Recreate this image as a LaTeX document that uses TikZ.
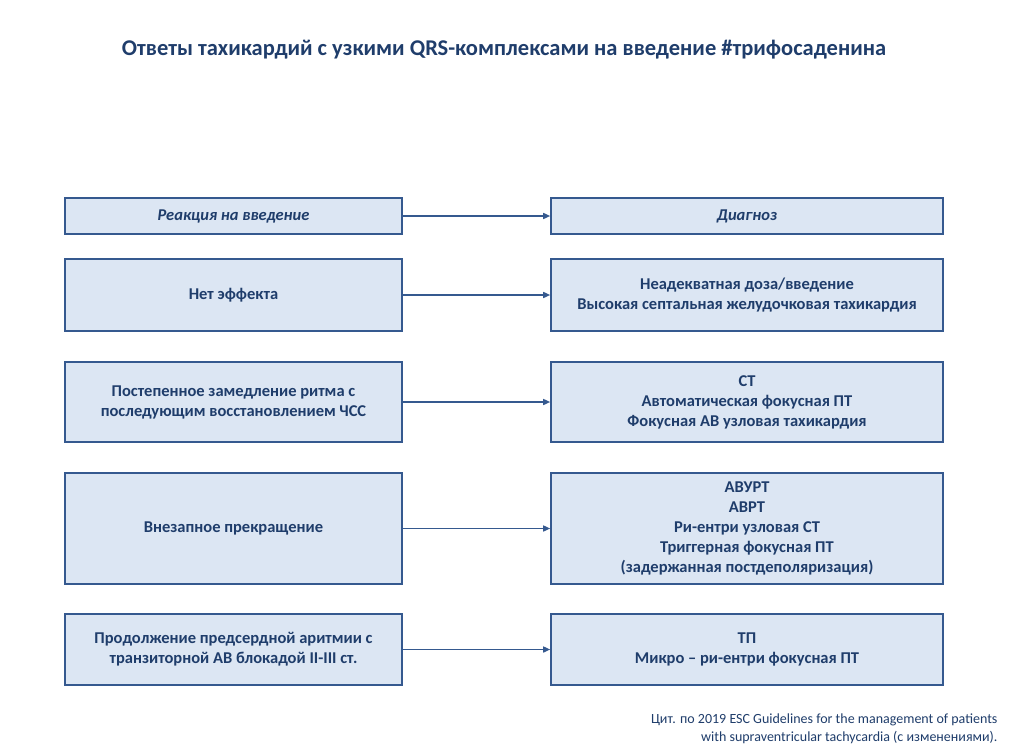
\documentclass[tikz,border=0pt]{standalone}
\usepackage{fontspec}
\setmainfont{Carlito}
\usetikzlibrary{arrows.meta}
\definecolor{boxfill}{HTML}{DCE6F3}
\definecolor{boxline}{HTML}{35598F}
\definecolor{txt}{HTML}{1F3D6B}
\tikzset{box/.style={draw=boxline, line width=1.6pt, fill=boxfill, text=txt,
  font=\fontsize{16.5}{20}\selectfont\bfseries, align=center, inner sep=2pt},
  lbox/.style={box, minimum width=337pt},
  rbox/.style={box, minimum width=392pt},
  link/.style={boxline, line width=1.5pt, -{Triangle[length=7pt,width=6pt]}}}
\begin{document}
\begin{tikzpicture}[x=1pt,y=-1pt]
\useasboundingbox[fill=white] (0,0) rectangle (1009,755);
\node[text=txt, font=\fontsize{22.5}{24}\selectfont\bfseries] (title) at (504,50)
  {Ответы тахикардий с узкими QRS-комплексами на введение \#трифосаденина};
% header row
\node[lbox, minimum height=36pt, font=\fontsize{16.5}{20}\selectfont\bfseries\itshape] (r0) at (233.5,216) {Реакция на введение};
\node[rbox, minimum height=36pt, font=\fontsize{16.5}{20}\selectfont\bfseries\itshape] (d0) at (747,216) {Диагноз};
% rows
\node[lbox, minimum height=72pt] (r1) at (233.5,295) {Нет эффекта};
\node[rbox, minimum height=72pt] (d1) at (747,295) {Неадекватная доза/введение\\Высокая септальная желудочковая тахикардия};
\node[lbox, minimum height=80pt] (r2) at (233.5,402) {Постепенное замедление ритма с\\последующим восстановлением ЧСС};
\node[rbox, minimum height=80pt] (d2) at (747,402) {СТ\\Автоматическая фокусная ПТ\\Фокусная АВ узловая тахикардия};
\node[lbox, minimum height=111pt] (r3) at (233.5,528.5) {Внезапное прекращение};
\node[rbox, minimum height=111pt] (d3) at (747,528.5) {АВУРТ\\АВРТ\\Ри-ентри узловая СТ\\Триггерная фокусная ПТ\\(задержанная постдеполяризация)};
\node[lbox, minimum height=71pt] (r4) at (233.5,649.5) {Продолжение предсердной аритмии с\\транзиторной АВ блокадой II-III ст.};
\node[rbox, minimum height=71pt] (d4) at (747,649.5) {ТП\\Микро -- ри-ентри фокусная ПТ};
\foreach \i in {0,...,4}
  \draw[link] (r\i.east) -- (d\i.west);
\node[anchor=east, text=txt, align=right, font=\fontsize{14}{18}\selectfont] (cite) at (1001,729)
  {Цит. по 2019 ESC Guidelines for the management of patients\\with supraventricular tachycardia (с изменениями).};
\end{tikzpicture}
\end{document}
